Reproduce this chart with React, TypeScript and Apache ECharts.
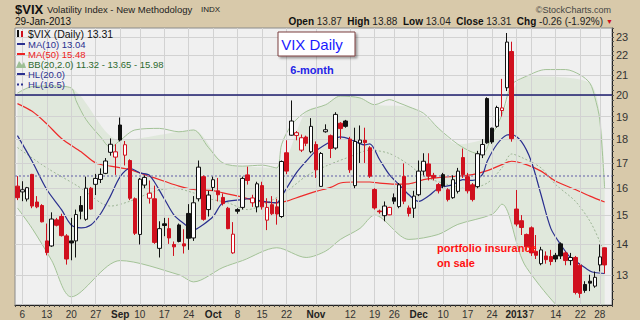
import React, { useEffect, useRef } from 'react';
import * as echarts from 'echarts';

// Trading days shown (Aug 3 2012 .. Jan 29 2013)
const monthDays: [string, number[]][] = [
  ['2012-08', [3, 6, 7, 8, 9, 10, 13, 14, 15, 16, 17, 20, 21, 22, 23, 24, 27, 28, 29, 30, 31]],
  ['2012-09', [4, 5, 6, 7, 10, 11, 12, 13, 14, 17, 18, 19, 20, 21, 24, 25, 26, 27, 28]],
  ['2012-10', [1, 2, 3, 4, 5, 8, 9, 10, 11, 12, 15, 16, 17, 18, 19, 22, 23, 24, 25, 26, 31]],
  ['2012-11', [1, 2, 5, 6, 7, 8, 9, 12, 13, 14, 15, 16, 19, 20, 21, 23, 26, 27, 28, 29, 30]],
  ['2012-12', [3, 4, 5, 6, 7, 10, 11, 12, 13, 14, 17, 18, 19, 20, 21, 24, 26, 27, 28, 31]],
  ['2013-01', [2, 3, 4, 7, 8, 9, 10, 11, 14, 15, 16, 17, 18, 22, 23, 24, 25, 28, 29]],
];
const dates: string[] = monthDays.flatMap(([m, ds]) => ds.map((d) => `${m}-${String(d).padStart(2, '0')}`));

const opens = [
  16.08, 15.86, 15.59, 16.54, 15.48, 15.35, 14.10, 13.93, 14.83, 14.95,
  14.27, 14.10, 14.10, 15.35, 14.85, 16.00, 16.15, 16.34, 16.58, 17.44,
  17.24, 18.62, 17.32, 17.10, 15.60, 14.32, 16.12, 15.62, 15.60, 13.85,
  14.69, 14.52, 13.98, 14.65, 14.00, 15.06, 14.20, 15.60, 16.45, 15.20,
  16.03, 15.90, 15.65, 15.25, 13.70, 15.20, 15.28, 16.52, 15.45, 15.30,
  16.10, 14.82, 15.38, 15.30, 14.95, 17.42, 18.17, 18.16, 17.53, 18.09,
  17.46, 17.77, 16.07, 18.32, 18.15, 17.62, 18.70, 18.80, 18.00, 16.10,
  17.83, 17.95, 17.63, 15.95, 15.15, 14.98, 15.01, 15.64, 15.31, 16.46,
  15.26, 15.25, 15.75, 16.67, 16.96, 16.50, 16.14, 16.53, 15.94, 15.64,
  15.88, 17.22, 16.45, 16.13, 16.06, 17.33, 19.84, 18.48, 18.56, 19.28,
  20.36, 22.21, 15.22, 14.80, 14.32, 14.55, 13.75, 13.35, 13.60, 13.58,
  13.62, 14.00, 13.70, 13.45, 13.55, 13.30, 12.70, 12.80, 12.65, 13.31,
  13.87,
];
const highs = [
  16.47, 16.27, 16.05, 16.56, 15.70, 15.40, 14.70, 15.10, 14.90, 15.05,
  14.33, 14.90, 15.20, 15.70, 16.45, 16.05, 16.56, 16.78, 17.20, 18.03,
  17.78, 18.96, 17.92, 17.15, 15.65, 16.40, 16.50, 16.30, 16.10, 14.78,
  14.90, 14.90, 14.08, 14.70, 14.50, 15.40, 15.70, 17.10, 16.50, 15.90,
  16.45, 16.40, 15.80, 15.30, 14.75, 15.25, 16.45, 16.85, 15.75, 16.25,
  16.25, 15.62, 15.70, 15.60, 17.10, 17.95, 19.75, 18.35, 18.20, 18.15,
  18.93, 17.90, 17.45, 18.65, 18.20, 19.20, 18.75, 18.85, 18.10, 18.50,
  18.60, 18.50, 17.70, 16.00, 15.20, 15.50, 15.30, 15.80, 16.20, 16.98,
  15.35, 15.90, 17.10, 17.40, 17.40, 16.60, 16.20, 16.60, 16.00, 16.50,
  16.80, 17.60, 16.60, 16.20, 17.50, 18.00, 19.90, 18.50, 19.50, 20.80,
  23.22, 22.74, 15.93, 15.00, 14.35, 14.60, 14.30, 13.90, 13.75, 13.80,
  13.70, 14.05, 13.75, 13.70, 13.60, 13.35, 12.80, 13.00, 13.10, 13.98,
  13.88,
];
const lows = [
  15.55, 15.51, 15.50, 15.25, 15.25, 14.74, 13.62, 13.90, 14.60, 14.25,
  13.32, 13.46, 13.55, 14.85, 14.80, 15.20, 15.74, 16.20, 16.55, 17.30,
  16.52, 17.90, 16.90, 15.55, 14.30, 13.98, 16.00, 15.42, 14.00, 13.55,
  14.26, 14.00, 13.60, 14.05, 13.68, 13.80, 14.10, 15.50, 14.80, 14.95,
  15.90, 15.50, 15.35, 14.50, 13.67, 15.05, 15.20, 16.14, 15.30, 15.10,
  15.20, 14.47, 15.00, 14.66, 14.90, 16.55, 18.15, 17.95, 17.45, 17.70,
  17.40, 16.40, 16.05, 18.28, 17.20, 17.55, 18.00, 18.50, 16.60, 16.00,
  17.00, 17.00, 16.40, 15.20, 15.05, 14.78, 15.00, 15.40, 15.25, 15.40,
  14.95, 14.90, 15.70, 16.50, 16.30, 16.30, 15.80, 16.00, 15.50, 15.60,
  15.80, 16.40, 15.80, 15.50, 16.00, 17.20, 17.80, 17.80, 18.50, 19.00,
  20.20, 17.89, 14.60, 14.30, 13.80, 13.60, 13.50, 13.30, 13.35, 13.30,
  13.40, 13.50, 13.30, 13.30, 12.40, 12.30, 12.45, 12.50, 12.60, 13.10,
  13.04,
];
const closes = [
  15.64, 15.94, 16.02, 15.33, 15.30, 14.76, 13.71, 14.86, 14.64, 14.28,
  13.50, 14.03, 15.02, 15.14, 16.00, 15.22, 16.38, 16.54, 17.08, 17.78,
  17.46, 17.96, 17.76, 15.62, 14.36, 16.35, 16.42, 15.81, 14.05, 14.52,
  14.63, 14.20, 13.90, 14.08, 13.93, 14.19, 15.45, 16.83, 14.85, 15.74,
  16.33, 15.75, 15.42, 14.52, 14.33, 15.14, 16.38, 16.30, 15.63, 16.17,
  15.30, 15.28, 15.05, 15.04, 17.06, 16.67, 18.80, 18.28, 18.06, 17.82,
  18.56, 16.72, 17.39, 18.41, 17.60, 19.10, 18.46, 18.56, 16.72, 17.90,
  17.96, 17.85, 16.47, 15.26, 15.12, 15.33, 15.28, 15.51, 16.13, 15.51,
  15.06, 15.70, 16.67, 17.07, 16.47, 16.42, 15.90, 16.08, 15.57, 16.33,
  16.67, 16.53, 15.90, 15.57, 17.38, 17.77, 17.84, 17.88, 19.42, 19.40,
  22.72, 18.02, 14.68, 14.56, 13.90, 13.70, 13.62, 13.80, 13.48, 13.42,
  13.50, 13.60, 13.45, 13.55, 12.46, 12.43, 12.52, 12.74, 12.92, 13.57,
  13.31,
];

// Indicator lines: [trading-day index, value]
const ma10Points: [number, number][] = [
  [0, 18.15], [3, 17.07], [6, 15.95], [9, 15.2], [11, 14.65], [13, 14.55], [15, 14.65], [17, 15.05],
  [19, 15.7], [21, 16.45], [23, 16.78], [25, 16.6], [27, 16.5], [30, 15.6], [32, 15.0], [34, 14.7],
  [36, 14.48], [38, 14.67], [40, 14.95], [42, 15.45], [46, 15.57], [48, 15.61], [50, 15.51], [53, 15.45],
  [54, 15.7], [57, 16.6], [59, 17.07], [61, 17.5], [64, 17.9], [66, 18.1], [68, 18.0], [71, 17.75],
  [72, 17.8], [74, 17.14], [76, 16.53], [78, 16.14], [80, 15.75], [82, 15.5], [84, 15.7], [86, 16.0],
  [89, 16.14], [91, 16.33], [93, 16.3], [95, 16.53], [96, 17.07], [98, 17.78], [100, 18.18], [101, 18.2],
  [103, 17.89], [105, 17.07], [107, 15.75], [109, 14.53], [111, 13.98], [113, 13.55], [115, 13.33],
  [117, 13.12], [118, 13.07], [120, 13.04],
];
const ma50Points: [number, number][] = [
  [0, 19.6], [3, 19.24], [6, 18.67], [9, 18.03], [13, 17.46], [16, 17.0], [19, 16.87], [23, 16.73],
  [26, 16.53], [30, 16.27], [33, 16.08], [36, 15.95], [40, 15.91], [42, 15.82], [46, 15.66], [49, 15.51],
  [53, 15.45], [55, 15.51], [58, 15.7], [61, 15.88], [64, 16.03], [66, 16.2], [69, 16.24], [72, 16.24],
  [74, 16.2], [77, 16.16], [80, 16.17], [83, 16.33], [86, 16.41], [90, 16.47], [93, 16.53], [96, 16.69],
  [99, 16.93], [101, 17.07], [104, 16.93], [107, 16.67], [110, 16.27], [114, 15.95], [117, 15.7], [120, 15.48],
];
const bbUpperPoints: [number, number][] = [
  [0, 20.1], [3, 20.42], [7, 20.45], [11, 20.35], [12, 19.73], [14, 18.87], [17, 18.09], [19, 17.65],
  [21, 17.95], [24, 18.4], [29, 18.47], [33, 18.32], [36, 18.4], [39, 17.65], [42, 17.0], [46, 16.87],
  [50, 16.91], [53, 16.8], [54, 17.78], [56, 18.62], [59, 19.23], [63, 19.55], [66, 19.96], [70, 19.87],
  [73, 19.55], [76, 19.79], [78, 19.63], [80, 19.45], [83, 19.15], [86, 18.48], [90, 17.78], [93, 17.44],
  [95, 17.37], [97, 18.17], [99, 19.08], [101, 20.5], [104, 20.93], [108, 21.27], [112, 21.27], [115, 21.0],
  [117, 20.58], [118, 19.9], [119, 18.85], [120, 15.98],
];
const bbLowerPoints: [number, number][] = [
  [0, 15.26], [3, 14.53], [7, 13.45], [9, 12.93], [11, 12.33], [13, 12.53], [15, 12.73], [18, 12.84],
  [21, 13.45], [23, 13.55], [26, 13.55], [30, 13.45], [33, 13.0], [36, 12.78], [38, 12.73], [40, 12.84],
  [42, 13.23], [46, 13.45], [49, 13.55], [53, 13.87], [55, 14.2], [57, 13.66], [59, 13.55], [63, 13.76],
  [66, 14.15], [70, 14.53], [73, 15.0], [75, 15.39], [77, 14.67], [80, 14.15], [82, 14.03], [86, 14.32],
  [90, 14.67], [94, 14.85], [97, 15.03], [99, 15.4], [100, 15.2], [102, 14.2], [104, 13.23], [106, 12.3],
  [107, 12.0], [110, 11.7], [114, 11.45], [117, 11.35], [120, 11.32],
];
const bbMidPoints: [number, number][] = [
  [0, 17.64], [6, 16.8], [13, 16.0], [17, 15.45], [19, 15.33], [23, 15.51], [28, 15.88], [32, 16.0],
  [36, 15.82], [39, 15.61], [43, 15.45], [47, 15.2], [51, 15.45], [55, 15.88], [59, 16.47], [63, 16.87],
  [68, 17.26], [72, 17.53], [76, 17.39], [80, 16.93], [83, 16.47], [88, 16.14], [92, 15.98], [96, 16.2],
  [99, 16.8], [101, 17.37], [103, 17.23], [107, 16.8], [110, 16.14], [114, 15.51], [117, 14.78], [119, 14.08],
  [120, 13.65],
];

const yTicks = [13, 14, 15, 16, 17, 18, 19, 20, 21, 22, 23];
const hlLevels = [20, 16.5];
const xLabels: [string, string][] = [
  ['2012-08-06', '6'], ['2012-08-13', '13'], ['2012-08-20', '20'], ['2012-08-27', '27'],
  ['2012-09-04', 'Sep'], ['2012-09-10', '10'], ['2012-09-17', '17'], ['2012-09-24', '24'],
  ['2012-10-01', 'Oct'], ['2012-10-08', '8'], ['2012-10-15', '15'], ['2012-10-22', '22'],
  ['2012-11-01', 'Nov'], ['2012-11-12', '12'], ['2012-11-19', '19'], ['2012-11-26', '26'],
  ['2012-12-03', 'Dec'], ['2012-12-10', '10'], ['2012-12-17', '17'], ['2012-12-24', '24'],
  ['2013-01-02', '2013'], ['2013-01-07', '7'], ['2013-01-14', '14'], ['2013-01-22', '22'],
  ['2013-01-28', '28'],
];

const FONT = '"Liberation Sans", Arial, sans-serif';
const RED = '#d0101e';
const NAVY = '#2a2f8f';

function buildOption() {
  const categories = [...dates, ''];
  const labelMap = new Map(xLabels);
  const n = dates.length;
  const blackData: any[] = [];
  const redData: any[] = [];
  for (let i = 0; i < n; i++) {
    const ref = i > 0 ? closes[i - 1] : opens[i];
    const item = [opens[i], closes[i], lows[i], highs[i]];
    if (closes[i] >= ref) {
      blackData.push(item);
      redData.push('-');
    } else {
      redData.push(item);
      blackData.push('-');
    }
  }
  const upperMap = new Map(bbUpperPoints);
  const lowerData: any[] = [];
  const bandDiff: any[] = [];
  bbLowerPoints.forEach(([i, lo]) => {
    const up = upperMap.get(i);
    if (up != null) {
      lowerData.push([i, lo]);
      bandDiff.push([i, up - lo]);
    }
  });
  const lowerMap = new Map(bbLowerPoints);
  bbUpperPoints.forEach(([i, up]) => {
    const lo = lowerMap.get(i);
    if (lo == null) return;
    if (!lowerData.some((p) => p[0] === i)) {
      lowerData.push([i, lo]);
      bandDiff.push([i, up - lo]);
    }
  });
  lowerData.sort((a, b) => a[0] - b[0]);
  bandDiff.sort((a, b) => a[0] - b[0]);
  // upper points without a matching lower reading are drawn as a separate edge line
  const upperOnly = bbUpperPoints;

  const minorTicks: number[] = [];
  for (let v = 12.25; v <= 23.5; v += 0.25) minorTicks.push(+v.toFixed(2));

  const last = n - 1;
  const chg = closes[last] - closes[last - 1];
  const pct = (chg / closes[last - 1]) * 100;

  const lineBase = {
    type: 'line',
    symbol: 'none',
    showSymbol: false,
    silent: true,
    animation: false,
  };

  const legendRows = [
    { y: 33.5, text: `$VIX (Daily) ${closes[last].toFixed(2)}`, color: '#111', size: 10.5 },
    { y: 44, text: `MA(10) ${ma10Points[ma10Points.length - 1][1].toFixed(2)}`, color: NAVY, size: 9.5 },
    { y: 54, text: `MA(50) ${ma50Points[ma50Points.length - 1][1].toFixed(2)}`, color: '#ee2222', size: 9.5 },
    {
      y: 64,
      text: `BB(20,2.0) ${bbLowerPoints[bbLowerPoints.length - 1][1].toFixed(2)} - ${bbMidPoints[bbMidPoints.length - 1][1].toFixed(2)} - ${bbUpperPoints[bbUpperPoints.length - 1][1].toFixed(2)}`,
      color: '#2e6a2e',
      size: 9.5,
    },
    { y: 74, text: `HL(${hlLevels[0].toFixed(1)})`, color: NAVY, size: 9.5 },
    { y: 84.5, text: `HL(${hlLevels[1].toFixed(1)})`, color: NAVY, size: 9.5 },
  ];

  const graphic: any[] = [
    { type: 'text', x: 15, y: 9, style: { text: '$VIX', font: `bold 13px ${FONT}`, fill: '#111', verticalAlign: 'middle' } },
    { type: 'text', x: 47, y: 9.5, style: { text: 'Volatility Index - New Methodology', font: `9.5px ${FONT}`, fill: '#222', verticalAlign: 'middle' } },
    { type: 'text', x: 201, y: 9.5, style: { text: 'INDX', font: `8px ${FONT}`, fill: '#222', verticalAlign: 'middle' } },
    { type: 'text', x: 15, y: 21.5, style: { text: '29-Jan-2013', font: `10px ${FONT}`, fill: '#111', verticalAlign: 'middle' } },
    { type: 'text', x: 611, y: 10, style: { text: '©StockCharts.com', font: `9px ${FONT}`, fill: '#444', align: 'right', verticalAlign: 'middle' } },
    {
      type: 'text',
      x: 603,
      y: 21.5,
      style: {
        text: `{b|Open} ${opens[last].toFixed(2)}  {b|High} ${highs[last].toFixed(2)}  {b|Low} ${lows[last].toFixed(2)}  {b|Close} ${closes[last].toFixed(2)}  {b|Chg} ${chg.toFixed(2)} (${pct.toFixed(2)}%)`,
        font: `10px ${FONT}`,
        fill: '#222',
        align: 'right',
        verticalAlign: 'middle',
        rich: { b: { fontWeight: 'bold', fontSize: 10, fontFamily: FONT, fill: '#111' } },
      },
    },
    { type: 'text', x: 606, y: 21.5, style: { text: '▼', font: `7px ${FONT}`, fill: RED, verticalAlign: 'middle' } },
    // legend icons
    { type: 'rect', z: 20, shape: { x: 17, y: 30, width: 2, height: 7 }, style: { fill: '#111' } },
    { type: 'rect', z: 20, shape: { x: 21, y: 31, width: 2, height: 6 }, style: { fill: RED } },
    { type: 'line', z: 20, shape: { x1: 17, y1: 44, x2: 25, y2: 44 }, style: { stroke: NAVY, lineWidth: 2 } },
    { type: 'line', z: 20, shape: { x1: 17, y1: 54, x2: 25, y2: 54 }, style: { stroke: '#ee2222', lineWidth: 2 } },
    { type: 'polygon', z: 20, shape: { points: [[16, 68], [19, 61], [22, 65], [24, 62], [26, 68]] }, style: { fill: '#9dbf95' } },
    { type: 'line', z: 20, shape: { x1: 17, y1: 74, x2: 25, y2: 74 }, style: { stroke: NAVY, lineWidth: 2 } },
    { type: 'line', z: 20, shape: { x1: 17, y1: 84.5, x2: 25, y2: 84.5 }, style: { stroke: NAVY, lineWidth: 2, lineDash: [2, 2] } },
    ...legendRows.map((r) => ({
      type: 'text',
      z: 20,
      x: 28,
      y: r.y,
      style: { text: r.text, font: `${r.size}px ${FONT}`, fill: r.color, verticalAlign: 'middle' },
    })),
    // annotations
    {
      type: 'rect',
      z: 20,
      shape: { x: 278, y: 32, width: 77, height: 24 },
      style: { fill: '#ffffff', stroke: '#7a3e3e', lineWidth: 1, shadowBlur: 2, shadowOffsetX: 2, shadowOffsetY: 2, shadowColor: 'rgba(0,0,0,0.35)' },
    },
    { type: 'text', z: 21, x: 312, y: 44.5, style: { text: 'VIX Daily', font: `15px ${FONT}`, fill: '#1a1aff', align: 'center', verticalAlign: 'middle' } },
    { type: 'text', z: 21, x: 312, y: 70, style: { text: '6-month', font: `bold 11px ${FONT}`, fill: '#2424e6', align: 'center', verticalAlign: 'middle' } },
    { type: 'text', z: 21, x: 437, y: 248, style: { text: 'portfolio insurance', font: `bold 11px ${FONT}`, fill: '#ff1010', verticalAlign: 'middle' } },
    { type: 'text', z: 21, x: 437, y: 263, style: { text: 'on sale', font: `bold 11px ${FONT}`, fill: '#ff1010', verticalAlign: 'middle' } },
  ];

  return {
    animation: false,
    backgroundColor: '#d8c9aa',
    grid: {
      left: 15,
      right: 28,
      top: 28,
      bottom: 15,
      show: true,
      backgroundColor: '#f0f0f0',
      borderColor: '#8a8a8a',
      borderWidth: 1,
    },
    xAxis: {
      type: 'category',
      data: categories,
      boundaryGap: true,
      axisLine: { show: true, lineStyle: { color: '#222' } },
      axisTick: { show: true, interval: 0, length: 2, lineStyle: { color: '#444' } },
      axisLabel: {
        interval: (_i: number, v: string) => labelMap.has(v),
        formatter: (v: string) => {
          const t = labelMap.get(v) || '';
          return /^(\d{1,2})$/.test(t) ? t : `{b|${t}}`;
        },
        fontFamily: FONT,
        fontSize: 10,
        color: '#333',
        margin: 4,
        rich: { b: { fontWeight: 'bold', fontSize: 10, fontFamily: FONT, color: '#222' } },
      },
      splitLine: { show: false },
    },
    yAxis: {
      type: 'log',
      logBase: 10,
      min: 12.09,
      max: 23.5,
      position: 'right',
      axisLine: { show: true, lineStyle: { color: '#222' } },
      axisTick: { show: true, customValues: minorTicks, length: 2, lineStyle: { color: '#555' } },
      axisLabel: {
        customValues: yTicks,
        formatter: (v: number) => String(Math.round(v)),
        fontFamily: FONT,
        fontSize: 11,
        color: '#333',
        margin: 4,
      },
      splitLine: { show: false },
    },
    graphic,
    series: [
      {
        ...lineBase,
        name: 'bbLow',
        stack: 'bb',
        smooth: 0.3,
        z: 2,
        data: lowerData,
        lineStyle: { color: '#a3c297', width: 1 },
        markLine: {
          silent: true,
          symbol: ['none', 'none'],
          label: { show: false },
          animation: false,
          lineStyle: { color: '#d2d2d2', width: 1, type: 'solid' },
          data: [
            ...xLabels.map(([d]) => ({ xAxis: dates.indexOf(d) })),
            ...yTicks.map((v) => ({ yAxis: v })),
          ],
        },
      },
      {
        ...lineBase,
        name: 'bbBand',
        stack: 'bb',
        smooth: 0.3,
        z: 2,
        data: bandDiff,
        lineStyle: { color: 'rgba(0,0,0,0)', width: 0 },
        areaStyle: { color: 'rgba(160,200,140,0.28)' },
      },
      {
        ...lineBase,
        name: 'bbUpper',
        smooth: 0.3,
        z: 2,
        data: upperOnly,
        lineStyle: { color: '#a3c297', width: 1 },
      },
      {
        ...lineBase,
        name: 'bbMid',
        smooth: 0.3,
        z: 3,
        data: bbMidPoints,
        lineStyle: { color: '#9db596', width: 1, type: [2, 2] },
        markLine: {
          silent: true,
          symbol: ['none', 'none'],
          label: { show: false },
          animation: false,
          data: [
            { yAxis: hlLevels[0], lineStyle: { color: '#1c1c6e', width: 1.5, type: 'solid' } },
            { yAxis: hlLevels[1], lineStyle: { color: '#8a8ab8', width: 1.5, type: [2, 2] } },
          ],
        },
      },
      { ...lineBase, name: 'MA50', smooth: 0.3, z: 4, data: ma50Points, lineStyle: { color: '#ee2a2a', width: 1.2 } },
      { ...lineBase, name: 'MA10', smooth: 0.3, z: 4, data: ma10Points, lineStyle: { color: NAVY, width: 1.2 } },
      {
        type: 'candlestick',
        name: 'up',
        z: 5,
        silent: true,
        barWidth: 4,
        data: blackData,
        itemStyle: { color: '#ffffff', color0: '#111111', borderColor: '#111111', borderColor0: '#111111', borderWidth: 1 },
      },
      {
        type: 'candlestick',
        name: 'down',
        z: 5,
        silent: true,
        barWidth: 4,
        data: redData,
        itemStyle: { color: '#ffffff', color0: RED, borderColor: RED, borderColor0: RED, borderWidth: 1 },
      },
    ],
  };
}

export default function App() {
  const ref = useRef<HTMLDivElement>(null);
  useEffect(() => {
    if (!ref.current) return;
    const chart = echarts.init(ref.current, null, { renderer: 'svg' });
    chart.setOption(buildOption() as any);
    return () => chart.dispose();
  }, []);
  return <div ref={ref} style={{ position: 'fixed', left: 0, top: 0, width: 640, height: 320 }} />;
}
